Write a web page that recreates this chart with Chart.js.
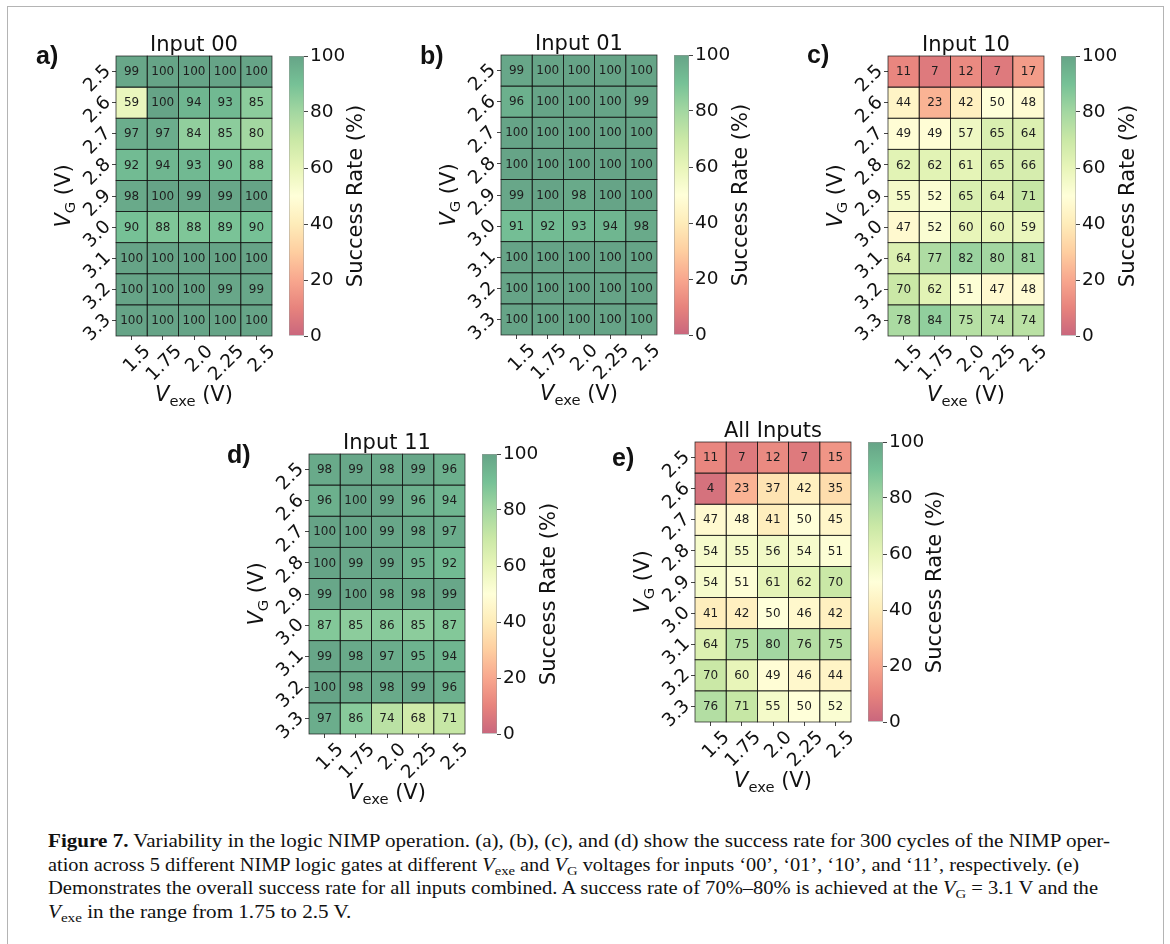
<!DOCTYPE html>
<html>
<head>
<meta charset="utf-8">
<script src="https://cdn.jsdelivr.net/npm/chart.js@4.4.1/dist/chart.umd.min.js"></script>
<style>
  html, body { margin: 0; padding: 0; background: #fff; }
  #fig { position: relative; width: 1170px; height: 944px; overflow: hidden; }
  #frame { position: absolute; left: 7px; top: 6px; width: 1155px; height: 1000px; border: 1.5px solid #b4b4b4; }
  canvas { position: absolute; }
  .caption {
    position: absolute; left: 48px; top: 830px;
    font-family: "Liberation Serif", serif; font-size: 18px; line-height: 23.7px;
    color: #111; white-space: nowrap;
  }
  .caption .ln { display: inline-block; transform-origin: 0 50%; }
  .caption .sub { font-size: 0.72em; vertical-align: -0.3em; line-height: 0; }
</style>
</head>
<body>
<div id="fig">
  <div id="frame"></div>
  <div class="caption" id="caption">
    <span class="ln" data-w="1062"><b>Figure 7.</b> Variability in the logic NIMP operation. (a), (b), (c), and (d) show the success rate for 300 cycles of the NIMP oper-</span><br>
    <span class="ln" data-w="1031">ation across 5 different NIMP logic gates at different <i>V</i><span class="sub">exe</span> and <i>V</i><span class="sub">G</span> voltages for inputs ‘00’, ‘01’, ‘10’, and ‘11’, respectively. (e)</span><br>
    <span class="ln" data-w="1050">Demonstrates the overall success rate for all inputs combined. A success rate of 70%–80% is achieved at the <i>V</i><span class="sub">G</span> = 3.1 V and the</span><br>
    <span class="ln"><i>V</i><span class="sub">exe</span> in the range from 1.75 to 2.5 V.</span>
  </div>
</div>
<script>
// gate voltage rows (top to bottom) and execution voltage columns
const VG_LABELS = ['2.5', '2.6', '2.7', '2.8', '2.9', '3.0', '3.1', '3.2', '3.3'];
const VEXE_LABELS = ['1.5', '1.75', '2.0', '2.25', '2.5'];
const RATE_TICKS = [0, 20, 40, 60, 80, 100];

// success rate (%) per VG row
const INPUT_00 = [
  [99, 100, 100, 100, 100],
  [59, 100, 94, 93, 85],
  [97, 97, 84, 85, 80],
  [92, 94, 93, 90, 88],
  [98, 100, 99, 99, 100],
  [90, 88, 88, 89, 90],
  [100, 100, 100, 100, 100],
  [100, 100, 100, 99, 99],
  [100, 100, 100, 100, 100]
];
const INPUT_01 = [
  [99, 100, 100, 100, 100],
  [96, 100, 100, 100, 99],
  [100, 100, 100, 100, 100],
  [100, 100, 100, 100, 100],
  [99, 100, 98, 100, 100],
  [91, 92, 93, 94, 98],
  [100, 100, 100, 100, 100],
  [100, 100, 100, 100, 100],
  [100, 100, 100, 100, 100]
];
const INPUT_10 = [
  [11, 7, 12, 7, 17],
  [44, 23, 42, 50, 48],
  [49, 49, 57, 65, 64],
  [62, 62, 61, 65, 66],
  [55, 52, 65, 64, 71],
  [47, 52, 60, 60, 59],
  [64, 77, 82, 80, 81],
  [70, 62, 51, 47, 48],
  [78, 84, 75, 74, 74]
];
const INPUT_11 = [
  [98, 99, 98, 99, 96],
  [96, 100, 99, 96, 94],
  [100, 100, 99, 98, 97],
  [100, 99, 99, 95, 92],
  [99, 100, 98, 98, 99],
  [87, 85, 86, 85, 87],
  [99, 98, 97, 95, 94],
  [100, 98, 98, 99, 96],
  [97, 86, 74, 68, 71]
];
const ALL_INPUTS = [
  [11, 7, 12, 7, 15],
  [4, 23, 37, 42, 35],
  [47, 48, 41, 50, 45],
  [54, 55, 56, 54, 51],
  [54, 51, 61, 62, 70],
  [41, 42, 50, 46, 42],
  [64, 75, 80, 76, 75],
  [70, 60, 49, 46, 44],
  [76, 71, 55, 50, 52]
];

// where each heatmap sits on the page (left/top of the cell grid) and its panel letter
const PANELS = [
  { letter: 'a)', title: 'Input 00', values: INPUT_00, left: 116, top: 56, lx: -80, ly: 8 },
  { letter: 'b)', title: 'Input 01', values: INPUT_01, left: 501, top: 55, lx: -81, ly: 9 },
  { letter: 'c)', title: 'Input 10', values: INPUT_10, left: 888, top: 56, lx: -81, ly: 7 },
  { letter: 'd)', title: 'Input 11', values: INPUT_11, left: 309, top: 454, lx: -82, ly: 9 },
  { letter: 'e)', title: 'All Inputs', values: ALL_INPUTS, left: 695, top: 442, lx: -83, ly: 24 }
];
const MAP_W = 156, MAP_H = 280;
const FONT = '"DejaVu Sans", sans-serif';
const TICK_SIZE = 18.5;

// RdYlGn, drawn at 60% opacity on white
const RDYLGN = ['#a50026', '#d73027', '#f46d43', '#fdae61', '#fee08b', '#ffffbf',
                '#d9ef8b', '#a6d96a', '#66bd63', '#1a9850', '#006837'];
const ALPHA = 0.6;

function hexRgb(h) {
  return [1, 3, 5].map(i => parseInt(h.slice(i, i + 2), 16));
}

function rateColor(v) {
  const t = Math.max(0, Math.min(1, v / 100)) * 10;
  const i = Math.min(9, Math.floor(t));
  const f = t - i;
  const a = hexRgb(RDYLGN[i]), b = hexRgb(RDYLGN[i + 1]);
  const rgb = a.map((x, k) => Math.round((x + (b[k] - x) * f) * ALPHA + 255 * (1 - ALPHA)));
  return `rgb(${rgb.join(',')})`;
}

// V with a subscript, then " (V)"
function drawVoltLabel(ctx, x, y, sub, vertical) {
  const fs = 21;
  const parts = [
    { t: 'V', f: `italic ${fs}px ${FONT}`, dy: 0 },
    { t: sub, f: `${fs * 0.7}px ${FONT}`, dy: fs * 0.22 },
    { t: ' (V)', f: `${fs}px ${FONT}`, dy: 0 }
  ];
  ctx.save();
  ctx.translate(x, y);
  if (vertical) ctx.rotate(-Math.PI / 2);
  let total = 0;
  parts.forEach(p => { ctx.font = p.f; p.w = ctx.measureText(p.t).width; total += p.w; });
  let cx = -total / 2;
  ctx.fillStyle = '#111';
  ctx.textAlign = 'left';
  ctx.textBaseline = 'alphabetic';
  parts.forEach(p => { ctx.font = p.f; ctx.fillText(p.t, cx, p.dy); cx += p.w; });
  ctx.restore();
}

function makeCanvas(left, top, w, h) {
  const c = document.createElement('canvas');
  c.width = w; c.height = h;
  c.style.left = left + 'px'; c.style.top = top + 'px';
  c.style.width = w + 'px'; c.style.height = h + 'px';
  document.getElementById('fig').appendChild(c);
  return c.getContext('2d');
}

function panelDecor(p) {
  return {
    id: 'panelDecor',
    afterDatasetsDraw(chart) {
      const { ctx } = chart;
      ctx.save();
      chart.data.datasets.forEach((ds, r) => {
        chart.getDatasetMeta(r).data.forEach((bar, c) => {
          const top = Math.min(bar.y, bar.base);
          const h = Math.abs(bar.base - bar.y);
          ctx.strokeStyle = 'rgba(20,20,20,0.85)';
          ctx.lineWidth = 0.8;
          ctx.strokeRect(bar.x - bar.width / 2, top, bar.width, h);
          ctx.fillStyle = '#1e1e1e';
          ctx.font = `12px ${FONT}`;
          ctx.textAlign = 'center';
          ctx.textBaseline = 'middle';
          ctx.fillText(String(p.values[r][c]), bar.x, top + h / 2 + 0.5);
        });
      });
      ctx.restore();
    },
    afterDraw(chart) {
      const { ctx, chartArea: a } = chart;
      const mid = (a.left + a.right) / 2;
      ctx.save();
      ctx.fillStyle = '#111';
      ctx.font = `21px ${FONT}`;
      ctx.textAlign = 'center';
      ctx.textBaseline = 'alphabetic';
      ctx.fillText(p.title, mid, a.top - 5);
      ctx.font = `bold 25px "Liberation Sans", Arial, sans-serif`;
      ctx.textAlign = 'left';
      ctx.fillText(p.letter, a.left + p.lx, a.top + p.ly);
      ctx.restore();
      drawVoltLabel(ctx, a.left - 46, (a.top + a.bottom) / 2, 'G', true);
      drawVoltLabel(ctx, mid, a.bottom + 65, 'exe', false);
    }
  };
}

function heatmap(p) {
  const PAD_L = 120, PAD_T = 50, PAD_R = 6, PAD_B = 80;
  const ctx = makeCanvas(p.left - PAD_L, p.top - PAD_T, MAP_W + PAD_L + PAD_R, MAP_H + PAD_T + PAD_B);
  const tickGrid = { drawOnChartArea: false, drawTicks: true, tickLength: 4, offset: false, color: '#444', lineWidth: 1 };

  return new Chart(ctx, {
    type: 'bar',
    data: {
      labels: VEXE_LABELS,
      datasets: VG_LABELS.map((vg, r) => ({
        label: vg,
        data: VEXE_LABELS.map(() => [r, r + 1]),
        backgroundColor: p.values[r].map(rateColor),
        borderWidth: 0,
        grouped: false,
        categoryPercentage: 1,
        barPercentage: 1
      }))
    },
    options: {
      responsive: false,
      animation: false,
      layout: { padding: { left: 0, top: PAD_T, right: PAD_R, bottom: 0 } },
      plugins: { legend: { display: false }, tooltip: { enabled: false } },
      scales: {
        x: {
          type: 'category',
          offset: true,
          grid: tickGrid,
          border: { display: false },
          ticks: {
            autoSkip: false, minRotation: 45, maxRotation: 45, padding: 1, labelOffset: 16,
            color: '#111', font: { family: FONT, size: TICK_SIZE }
          },
          afterFit: s => { s.height = PAD_B; }
        },
        y: {
          type: 'linear',
          min: 0,
          max: VG_LABELS.length,
          reverse: true,
          grid: tickGrid,
          border: { display: false },
          afterBuildTicks: s => { s.ticks = VG_LABELS.map((l, i) => ({ value: i + 0.5 })); },
          ticks: {
            autoSkip: false, minRotation: 45, maxRotation: 45, padding: 4, labelOffset: -3,
            color: '#111', font: { family: FONT, size: TICK_SIZE },
            callback: v => VG_LABELS[Math.floor(v)]
          },
          afterFit: s => { s.width = PAD_L; }
        }
      }
    },
    plugins: [panelDecor(p)]
  });
}

function colorbar(p) {
  const left = p.left + MAP_W + 17, width = 15, PAD_V = 14, AXIS_W = 90;
  const ctx = makeCanvas(left, p.top - PAD_V, width + AXIS_W, MAP_H + 2 * PAD_V);
  const lo = RATE_TICKS[0], hi = RATE_TICKS[RATE_TICKS.length - 1];

  return new Chart(ctx, {
    type: 'bar',
    data: {
      labels: [''],
      datasets: [{
        data: [[lo, hi]],
        backgroundColor: c => {
          const area = c.chart.chartArea;
          if (!area) return rateColor(50);
          const g = c.chart.ctx.createLinearGradient(0, area.bottom, 0, area.top);
          RDYLGN.forEach((_, k) => g.addColorStop(k / 10, rateColor(k * 10)));
          return g;
        },
        borderColor: '#9a9a9a',
        borderWidth: 0.8,
        borderSkipped: false,
        categoryPercentage: 1,
        barPercentage: 1
      }]
    },
    options: {
      responsive: false,
      animation: false,
      layout: { padding: { left: 0, top: PAD_V, right: 0, bottom: PAD_V } },
      plugins: { legend: { display: false }, tooltip: { enabled: false } },
      scales: {
        x: { display: false },
        y: {
          position: 'right',
          min: lo,
          max: hi,
          grid: { drawOnChartArea: false, drawTicks: true, tickLength: 4, color: '#444' },
          border: { display: false },
          afterBuildTicks: s => { s.ticks = RATE_TICKS.map(v => ({ value: v })); },
          ticks: { autoSkip: false, padding: 2, color: '#111', font: { family: FONT, size: TICK_SIZE } },
          afterFit: s => { s.width = AXIS_W; }
        }
      }
    },
    plugins: [{
      id: 'cbarTitle',
      afterDraw(chart) {
        const { ctx, chartArea: a } = chart;
        ctx.save();
        ctx.translate(a.right + 58, (a.top + a.bottom) / 2);
        ctx.rotate(-Math.PI / 2);
        ctx.fillStyle = '#111';
        ctx.font = `21px ${FONT}`;
        ctx.textAlign = 'center';
        ctx.textBaseline = 'alphabetic';
        ctx.fillText('Success Rate (%)', 0, 0);
        ctx.restore();
      }
    }]
  });
}

PANELS.forEach(p => { heatmap(p); colorbar(p); });

// squeeze each caption line to the width it has in print; the short last line keeps the first line's squeeze
const lines = [...document.querySelectorAll('#caption .ln')];
const baseScale = Number(lines[0].dataset.w) / lines[0].getBoundingClientRect().width;
lines.forEach(ln => {
  const s = ln.dataset.w ? Number(ln.dataset.w) / ln.getBoundingClientRect().width : baseScale;
  ln.style.transform = `scaleX(${s})`;
});
</script>
</body>
</html>
